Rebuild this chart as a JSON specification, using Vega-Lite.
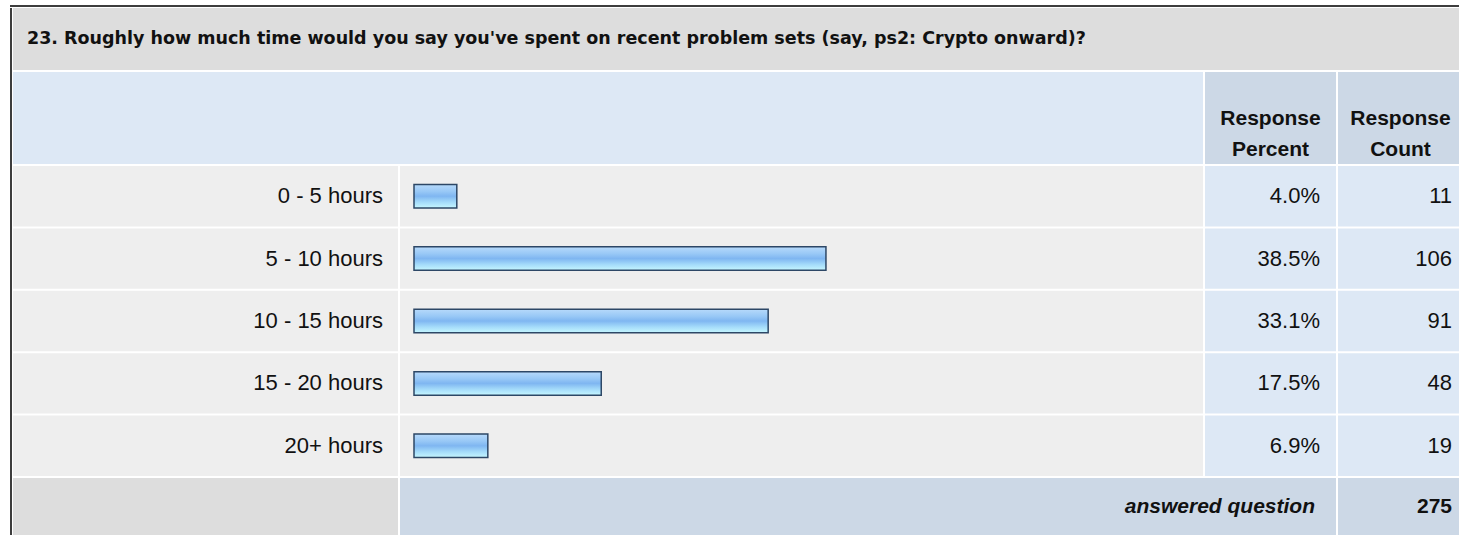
{
  "$schema": "https://vega.github.io/schema/vega-lite/v6.json",
  "padding": {"left": 10, "top": 5, "right": 0, "bottom": 0},
  "background": "white",
  "config": {
    "view": {"stroke": null},
    "text": {"font": "Liberation Sans", "fontSize": 22, "color": "#111111"}
  },
  "datasets": {
    "rows": [
      {"cat": "0 - 5 hours", "pct": 0.04, "count": 11},
      {"cat": "5 - 10 hours", "pct": 0.385, "count": 106},
      {"cat": "10 - 15 hours", "pct": 0.331, "count": 91},
      {"cat": "15 - 20 hours", "pct": 0.175, "count": 48},
      {"cat": "20+ hours", "pct": 0.069, "count": 19}
    ],
    "meta": [
      {"question": "23. Roughly how much time would you say you've spent on recent problem sets (say, ps2: Crypto onward)?", "answered": 275, "footLabel": "answered question"}
    ]
  },
  "spacing": 1,
  "vconcat": [
    {
      "width": 1449, "height": 2,
      "data": {"name": "meta"},
      "mark": {"type": "rect", "color": "#3d3d3d", "x": 0, "x2": "width", "y": 0, "y2": "height"},
      "encoding": {}
    },
    {
      "spacing": 1,
      "hconcat": [
        {
          "width": 2, "height": 527,
          "data": {"name": "meta"},
          "mark": {"type": "rect", "color": "#3d3d3d", "x": 0, "x2": "width", "y": 0, "y2": "height"},
          "encoding": {}
        },
        {
          "spacing": 2,
          "vconcat": [
            {
              "width": 1446, "height": 62,
              "data": {"name": "meta"},
              "view": {"fill": "#dddddd", "stroke": null},
              "mark": {"type": "text", "align": "left", "x": 0, "dx": 14, "fontWeight": "bold", "fontSize": 17.5, "font": "DejaVu Sans"},
              "encoding": {"text": {"field": "question"}}
            },
            {
              "spacing": 2,
              "hconcat": [
                {
                  "width": 1190, "height": 92,
                  "data": {"name": "meta"},
                  "mark": {"type": "rect", "color": "#dde8f5", "x": 0, "x2": "width", "y": 0, "y2": "height"},
                  "encoding": {}
                },
                {
                  "width": 131, "height": 92,
                  "data": {"name": "meta"},
                  "view": {"fill": "#ccd8e6", "stroke": null},
                  "mark": {"type": "text", "text": ["Response", "Percent"], "align": "center", "fontWeight": "bold", "fontSize": 21, "lineHeight": 31, "dy": 1},
                  "encoding": {}
                },
                {
                  "width": 121, "height": 92,
                  "data": {"name": "meta"},
                  "view": {"fill": "#ccd8e6", "stroke": null},
                  "mark": {"type": "text", "text": ["Response", "Count"], "align": "center", "fontWeight": "bold", "fontSize": 21, "lineHeight": 31, "dx": 2, "dy": 1},
                  "encoding": {}
                }
              ]
            },
            {
              "spacing": 2,
              "hconcat": [
                {
                  "width": 385, "height": 310,
                  "data": {"name": "rows"},
                  "encoding": {
                    "y": {"field": "cat", "type": "nominal", "sort": null, "scale": {"paddingInner": 0.032, "paddingOuter": 0}, "axis": null}
                  },
                  "layer": [
                    {"mark": {"type": "rect", "color": "#eeeeee", "x": 0, "x2": "width"}},
                    {"mark": {"type": "text", "align": "right", "x": "width", "dx": -15}, "encoding": {"text": {"field": "cat"}}}
                  ]
                },
                {
                  "width": 803, "height": 310,
                  "data": {"name": "rows"},
                  "encoding": {
                    "y": {"field": "cat", "type": "nominal", "sort": null, "scale": {"paddingInner": 0.032, "paddingOuter": 0}, "axis": null}
                  },
                  "layer": [
                    {"mark": {"type": "rect", "color": "#eeeeee", "x": 0, "x2": "width"}},
                    {
                      "mark": {
                        "type": "bar", "size": 23.5, "stroke": "#2d4766", "strokeWidth": 1.5,
                        "fill": {"gradient": "linear", "x1": 0, "y1": 0, "x2": 0, "y2": 1, "stops": [
                          {"offset": 0, "color": "#b7dafb"},
                          {"offset": 0.3, "color": "#98c8f6"},
                          {"offset": 0.5, "color": "#7fb6f1"},
                          {"offset": 0.75, "color": "#a4dbfa"},
                          {"offset": 1, "color": "#c6f7ff"}
                        ]}
                      },
                      "encoding": {
                        "x": {"field": "pct", "type": "quantitative", "scale": {"domain": [0, 1], "range": [14, 1084], "zero": true}, "axis": null}
                      }
                    }
                  ]
                },
                {
                  "width": 131, "height": 310,
                  "data": {"name": "rows"},
                  "encoding": {
                    "y": {"field": "cat", "type": "nominal", "sort": null, "scale": {"paddingInner": 0.032, "paddingOuter": 0}, "axis": null}
                  },
                  "layer": [
                    {"mark": {"type": "rect", "color": "#dde8f5", "x": 0, "x2": "width"}},
                    {"mark": {"type": "text", "align": "right", "x": "width", "dx": -16}, "encoding": {"text": {"field": "pct", "type": "quantitative", "format": ".1%"}}}
                  ]
                },
                {
                  "width": 121, "height": 310,
                  "data": {"name": "rows"},
                  "encoding": {
                    "y": {"field": "cat", "type": "nominal", "sort": null, "scale": {"paddingInner": 0.032, "paddingOuter": 0}, "axis": null}
                  },
                  "layer": [
                    {"mark": {"type": "rect", "color": "#dde8f5", "x": 0, "x2": "width"}},
                    {"mark": {"type": "text", "align": "right", "x": "width", "dx": -7}, "encoding": {"text": {"field": "count", "type": "quantitative"}}}
                  ]
                }
              ]
            },
            {
              "spacing": 2,
              "hconcat": [
                {
                  "width": 385, "height": 57,
                  "data": {"name": "meta"},
                  "mark": {"type": "rect", "color": "#dddddd", "x": 0, "x2": "width", "y": 0, "y2": "height"},
                  "encoding": {}
                },
                {
                  "width": 936, "height": 57,
                  "data": {"name": "meta"},
                  "view": {"fill": "#ccd8e6", "stroke": null},
                  "mark": {"type": "text", "align": "right", "x": "width", "dx": -21, "fontWeight": "bold", "fontStyle": "italic", "fontSize": 21},
                  "encoding": {"text": {"field": "footLabel"}}
                },
                {
                  "width": 121, "height": 57,
                  "data": {"name": "meta"},
                  "view": {"fill": "#ccd8e6", "stroke": null},
                  "mark": {"type": "text", "align": "right", "x": "width", "dx": -7, "fontWeight": "bold", "fontSize": 21},
                  "encoding": {"text": {"field": "answered", "type": "quantitative"}}
                }
              ]
            }
          ]
        }
      ]
    }
  ]
}
